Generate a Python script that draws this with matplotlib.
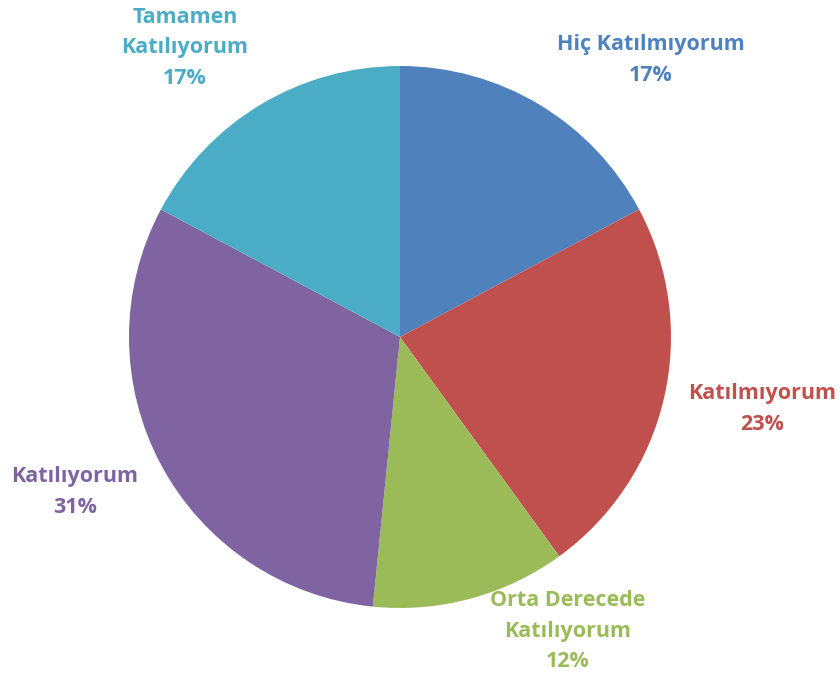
import matplotlib.pyplot as plt

# Data (shares, clockwise from 12 o'clock)
labels = ["Hiç Katılmıyorum", "Katılmıyorum", "Orta Derecede\nKatılıyorum",
          "Katılıyorum", "Tamamen\nKatılıyorum"]
values = [17.2, 22.8, 11.6, 31.2, 17.2]
colors = ["#4F81BD", "#C0504D", "#9BBB59", "#8064A2", "#4BACC6"]

# label anchor positions in pixels (x, y from top)
label_pos = [(651, 60), (762, 409), (568, 631), (75, 492), (185, 48)]

plt.rcParams['font.family'] = ['Open Sans', 'DejaVu Sans']

fig = plt.figure(figsize=(8.4, 6.79), dpi=100)
ax = fig.add_axes([0, 0, 1, 1])

ax.pie(values, colors=colors, startangle=90, counterclock=False,
       center=(400, 679 - 337), radius=271,
       wedgeprops=dict(linewidth=0), frame=True)
ax.set_xlim(0, 840)
ax.set_ylim(0, 679)
ax.set_aspect('equal')
ax.axis('off')

total = sum(values)
for lab, v, c, (x, y) in zip(labels, values, colors, label_pos):
    txt = "%s\n%d%%" % (lab, round(v / total * 100))
    ax.text(x, 679 - y, txt, ha='center', va='center', color=c,
            fontsize=15.5, fontweight='bold', linespacing=1.6)

fig.savefig("out.png", dpi=100)
